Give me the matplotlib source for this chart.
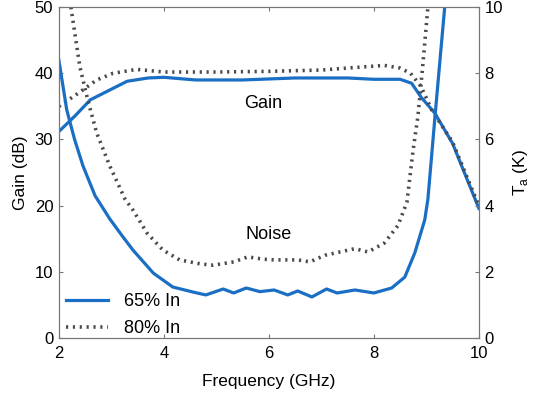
import matplotlib.pyplot as plt

plt.rcParams['font.family'] = ['Liberation Sans', 'DejaVu Sans']

# Gain (dB), left axis
gain_f65 = [2.0, 2.3, 2.6, 3.0, 3.3, 3.7, 4.0, 4.6, 5.5, 6.5, 7.5, 8.0, 8.5, 8.72, 8.9, 9.16, 9.5, 10.0]
gain_65 = [31.2, 33.5, 36.0, 37.6, 38.8, 39.3, 39.4, 39.0, 39.0, 39.3, 39.3, 39.1, 39.1, 38.5, 36.4, 34.0, 29.4, 19.6]

gain_f80 = [2.0, 2.37, 2.72, 3.03, 3.48, 4.0, 5.0, 6.0, 7.0, 7.5, 8.2, 8.5, 8.7, 8.9, 9.1, 9.5, 10.0]
gain_80 = [35.0, 37.0, 39.0, 40.0, 40.6, 40.2, 40.2, 40.3, 40.5, 40.8, 41.2, 40.8, 40.0, 38.0, 34.5, 29.6, 20.0]

# Noise temperature T_a (K), right axis
noise_f65 = [2.0, 2.08, 2.15, 2.3, 2.46, 2.69, 2.97, 3.2, 3.41, 3.8, 4.17, 4.55, 4.8, 5.13, 5.33, 5.57, 5.83,
             6.1, 6.36, 6.55, 6.82, 7.1, 7.3, 7.64, 8.0, 8.34, 8.59, 8.78, 8.97, 9.03, 9.16, 9.26, 9.35, 9.45]
noise_65 = [8.4, 7.6, 6.9, 6.0, 5.2, 4.3, 3.6, 3.1, 2.66, 1.96, 1.54, 1.39, 1.3, 1.48, 1.36, 1.51, 1.4,
            1.45, 1.3, 1.42, 1.24, 1.48, 1.36, 1.45, 1.36, 1.51, 1.84, 2.57, 3.57, 4.2, 6.6, 8.4, 10.0, 12.0]

noise_f80 = [2.23, 2.4, 2.55, 2.72, 2.97, 3.26, 3.41, 3.68, 3.98, 4.3, 4.69, 4.94, 5.33, 5.6, 5.9,
             6.11, 6.55, 6.78, 7.07, 7.64, 7.89, 8.2, 8.46, 8.63, 8.75, 8.84, 8.93, 9.03]
noise_80 = [10.0, 8.2, 7.2, 6.2, 5.2, 4.2, 3.87, 3.17, 2.66, 2.36, 2.24, 2.2, 2.3, 2.45, 2.38,
            2.36, 2.36, 2.3, 2.5, 2.7, 2.6, 2.87, 3.4, 4.1, 5.7, 6.7, 8.2, 10.0]

blue = '#1a6fc4'
gray = '#4a4a4a'
dots = (0, (0.6, 1.3))

fig = plt.figure(figsize=(5.35, 3.99), dpi=100)
ax = fig.add_axes([0.110, 0.153, 0.785, 0.829])
ax2 = ax.twinx()

ax.plot(gain_f65, gain_65, color=blue, lw=2.3, label='65% In')
ax.plot(gain_f80, gain_80, color=gray, lw=2.6, linestyle=dots, label='80% In')
ax2.plot(noise_f65, noise_65, color=blue, lw=2.3)
ax2.plot(noise_f80, noise_80, color=gray, lw=2.6, linestyle=dots)

ax.set_xlim(2, 10)
ax.set_ylim(0, 50)
ax2.set_ylim(0, 10)
ax.set_xticks([2, 4, 6, 8, 10])
ax.set_yticks([0, 10, 20, 30, 40, 50])
ax2.set_yticks([0, 2, 4, 6, 8, 10])

for a in (ax, ax2):
    a.tick_params(direction='in', length=3, labelsize=12, color='#777777')
    for s in a.spines.values():
        s.set_color('#777777')
        s.set_linewidth(0.8)
ax.tick_params(top=True)
ax.tick_params(axis='x', pad=6)
ax.tick_params(axis='y', pad=4)
ax2.tick_params(axis='y', pad=4)

ax.set_xlabel('Frequency (GHz)', fontsize=12.5, labelpad=9)
ax.set_ylabel('Gain (dB)', fontsize=12.5, labelpad=5)
ax2.set_ylabel('T$_\\mathregular{a}$ (K)', fontsize=12.5, labelpad=6)

ax.text(5.9, 35.5, 'Gain', fontsize=13, ha='center', va='center')
ax.text(6.0, 15.7, 'Noise', fontsize=13, ha='center', va='center')

leg = ax.legend(loc='lower left', bbox_to_anchor=(0.0, -0.02), frameon=False, fontsize=13,
                handlelength=2.3, borderaxespad=0.0, labelspacing=0.55, handletextpad=0.9)

fig.savefig('out.png', dpi=100)
